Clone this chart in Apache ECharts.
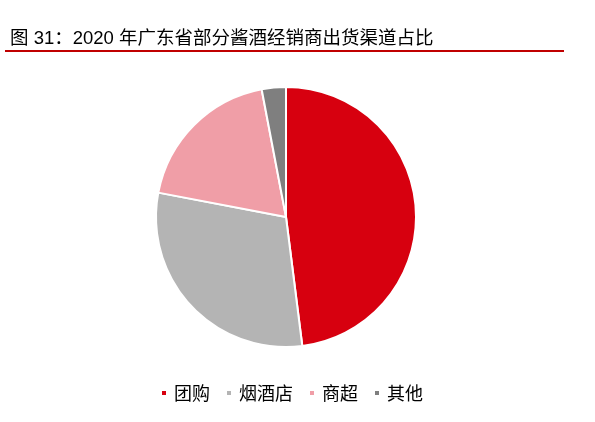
<!DOCTYPE html>
<html>
<head>
<meta charset="utf-8">
<script src="https://cdn.jsdelivr.net/npm/echarts@6/dist/echarts.min.js"></script>
<style>
html, body { margin: 0; padding: 0; background: #fff; }
#container { width: 595px; height: 422px; }
</style>
</head>
<body>
<div id="container"></div>
<script>
// 渠道 + 占比(%)
var channels = ['团购', '烟酒店', '商超', '其他'];
var shares = [48, 30, 19, 3];
var colors = ['#D7000F', '#B4B4B4', '#F09EA7', '#7F7F7F'];

var dom = document.getElementById("container");
var myChart = echarts.init(dom);

var pieData = [];
for (var i = 0; i < channels.length; i++) {
    pieData.push({ name: channels[i], value: shares[i] });
}

var option = {
    color: colors,
    animation: false,
    title: {
        text: '图 31：2020 年广东省部分酱酒经销商出货渠道占比',
        left: 5,
        top: 25,
        textStyle: {
            fontFamily: '"Liberation Sans", "Noto Sans CJK SC"',
            fontSize: 18.5,
            fontWeight: 'normal',
            color: '#000'
        }
    },
    graphic: [{
        type: 'line',
        shape: { x1: 5, y1: 51, x2: 564, y2: 51 },
        style: { stroke: '#C00000', lineWidth: 2 }
    }],
    legend: {
        data: channels,
        left: 155,
        top: 379,
        icon: 'rect',
        itemWidth: 6,
        itemHeight: 6,
        itemGap: 15,
        textStyle: {
            fontFamily: '"Noto Sans CJK SC"',
            fontSize: 18,
            color: '#000',
            padding: [0, 0, 0, 2]
        }
    },
    series: [{
        name: '出货渠道',
        type: 'pie',
        center: [286, 217],
        radius: [0, 130],
        startAngle: 90,
        clockwise: true,
        label: { show: false },
        labelLine: { show: false },
        itemStyle: {
            borderColor: '#fff',
            borderWidth: 2
        },
        emphasis: { disabled: true },
        data: pieData
    }]
};

myChart.setOption(option, true);
</script>
</body>
</html>
